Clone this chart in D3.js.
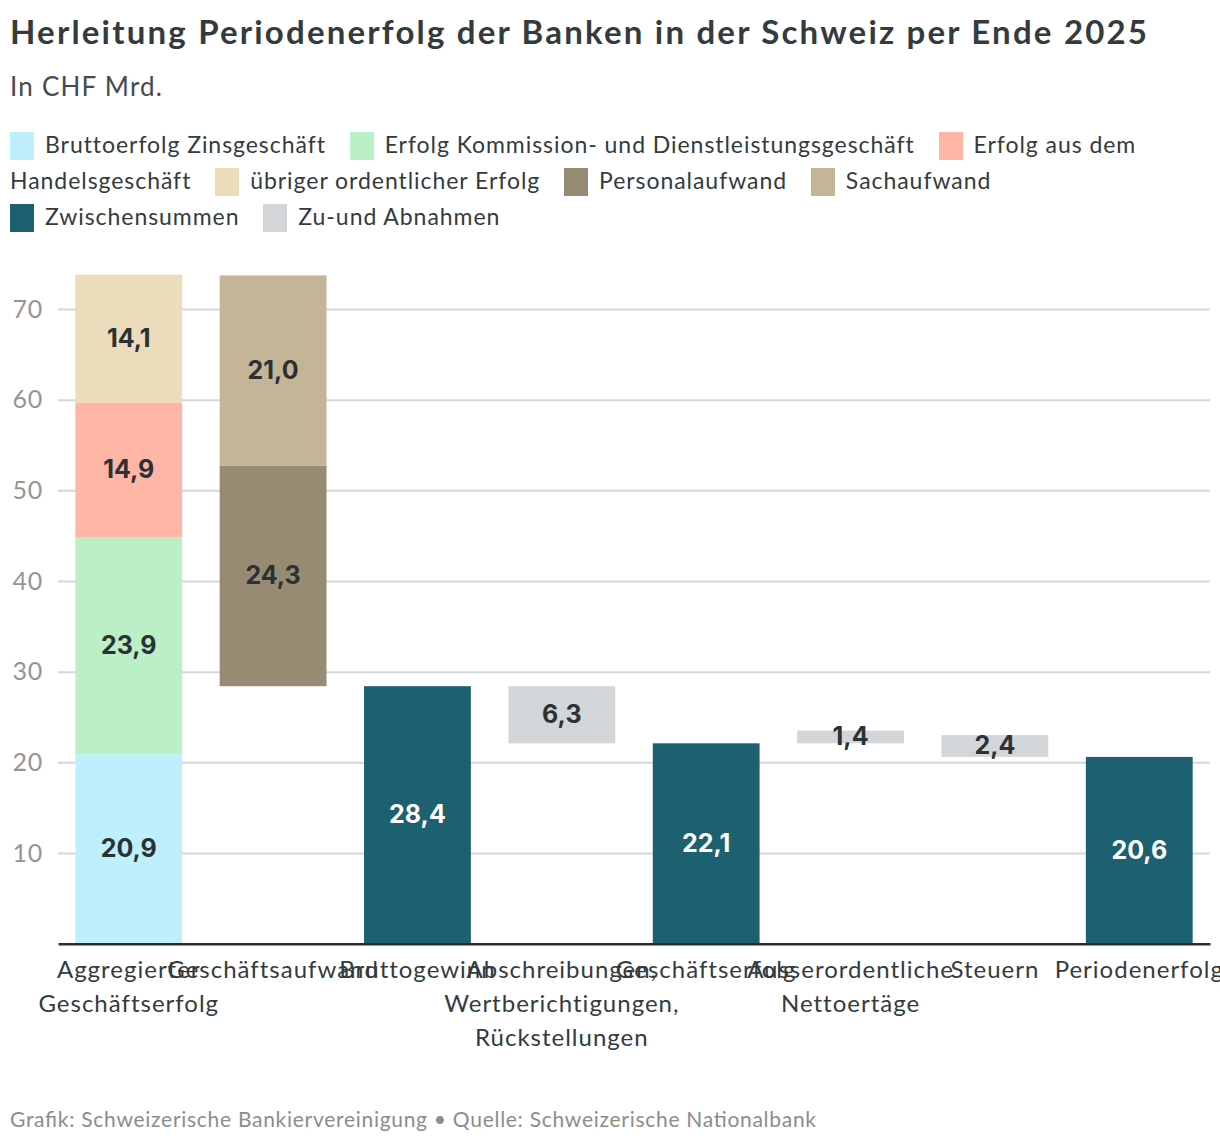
<!DOCTYPE html>
<html><head><meta charset="utf-8">
<script src="https://cdn.jsdelivr.net/npm/d3@7"></script>
<style>
body{margin:0;background:#fff;font-family:Lato,sans-serif;}
#wrap{position:relative;width:1220px;height:1148px;}
svg{position:absolute;left:0;top:0;}
#legend{position:absolute;left:10px;top:126px;width:1200px;font-size:23px;letter-spacing:0.95px;line-height:36px;color:#333b3f;font-family:Lato,sans-serif;}
.sw{display:inline-block;width:24px;height:28px;vertical-align:-7px;margin-right:11px;}
.item{margin-right:17px;}
.nw{white-space:nowrap;}
</style></head>
<body><div id="wrap"><svg id="chart" width="1220" height="1148"></svg><div id="legend"></div></div>
<script>
const title = "Herleitung Periodenerfolg der Banken in der Schweiz per Ende 2025";
const subtitle = "In CHF Mrd.";
const footer = "Grafik: Schweizerische Bankiervereinigung \u2022 Quelle: Schweizerische Nationalbank";

const categories = ["Aggregierter Geschäftserfolg","Geschäftsaufwand","Bruttogewinn","Abschreibungen, Wertberichtigungen, Rückstellungen","Geschäftserfolg","Ausserordentliche Nettoertäge","Steuern","Periodenerfolg"];
const seriesNames = ["Bruttoerfolg Zinsgeschäft","Erfolg Kommission- und Dienstleistungsgeschäft","Erfolg aus dem Handelsgeschäft","übriger ordentlicher Erfolg","Personalaufwand","Sachaufwand","Zwischensummen","Zu-und Abnahmen"];
const seriesColors = ["#bdeffc","#bbefc5","#ffb6a4","#ecdcbb","#978b73","#c3b596","#1d6070","#d3d6d9"];

// Aggregierter Geschäftserfolg components (series 0-3)
const incomeValues = [20.9, 23.9, 14.9, 14.1];
// Geschäftsaufwand components (series 4-5), stacked on Bruttogewinn
const expenseValues = [24.3, 21.0];
// Zwischensummen
const subtotalCats = ["Bruttogewinn","Geschäftserfolg","Periodenerfolg"];
const subtotalValues = [28.4, 22.1, 20.6];
// Zu- und Abnahmen: low end and size
const changeCats = ["Abschreibungen, Wertberichtigungen, Rückstellungen","Ausserordentliche Nettoertäge","Steuern"];
const changeLow = [22.1, 22.1, 20.6];
const changeValues = [6.3, 1.4, 2.4];

const yTicks = [10,20,30,40,50,60,70];

// build segments
const segs = [];
let acc = 0;
incomeValues.forEach((v,i)=>{segs.push({cat:categories[0],y0:acc,y1:acc+v,v,s:i});acc+=v;});
acc = subtotalValues[0];
expenseValues.forEach((v,i)=>{segs.push({cat:categories[1],y0:acc,y1:acc+v,v,s:4+i});acc+=v;});
subtotalValues.forEach((v,i)=>segs.push({cat:subtotalCats[i],y0:0,y1:v,v,s:6}));
changeValues.forEach((v,i)=>segs.push({cat:changeCats[i],y0:changeLow[i],y1:changeLow[i]+v,v,s:7}));

const svg = d3.select("#chart");
const textCol = "#333b3f";
svg.append("text").attr("x",10).attr("y",44).text(title)
  .attr("font-family","Lato").attr("font-weight",700).attr("font-size",33).attr("fill",textCol)
  .attr("textLength",1137).attr("lengthAdjust","spacing");
svg.append("text").attr("x",10).attr("y",96).text(subtitle)
  .attr("font-family","Lato").attr("font-size",26).attr("fill","#444b4f")
  .attr("textLength",152).attr("lengthAdjust","spacing");
svg.append("text").attr("x",10).attr("y",1127).text(footer)
  .attr("font-family","Lato").attr("font-size",21).attr("fill","#8c8c8c")
  .attr("textLength",806).attr("lengthAdjust","spacing");

const x = d3.scaleBand().domain(categories).range([58,1210]).paddingInner(0.26).paddingOuter(0.12);
const y = d3.scaleLinear().domain([0,70]).range([943.7,309]);

const gy = svg.append("g").attr("transform","translate(58,0)")
  .call(d3.axisLeft(y).tickValues(yTicks).tickSize(-1152).tickPadding(15));
gy.select(".domain").remove();
gy.selectAll(".tick line").attr("stroke","#d4d8dc").attr("stroke-width",2);
gy.selectAll(".tick text").attr("font-family","Lato").attr("font-size",25).attr("letter-spacing",0.8).attr("fill","#959595");

svg.append("g").selectAll("rect").data(segs).join("rect")
  .attr("x",d=>x(d.cat)).attr("width",x.bandwidth())
  .attr("y",d=>y(d.y1)).attr("height",d=>y(d.y0)-y(d.y1))
  .attr("fill",d=>seriesColors[d.s]);

const fmt = v => v.toFixed(1).replace(".",",");
svg.append("g").selectAll("text").data(segs).join("text")
  .attr("x",d=>x(d.cat)+x.bandwidth()/2).attr("y",d=>y((d.y0+d.y1)/2)).attr("dy","0.33em")
  .attr("text-anchor","middle").attr("font-family","Inter").attr("font-weight",700).attr("font-size",25)
  .attr("fill",d=>d.s===6?"#fff":"#2b3134").text(d=>fmt(d.v));

const gx = svg.append("g").attr("transform",`translate(0,${y(0)})`)
  .call(d3.axisBottom(x).tickSize(0).tickPadding(0));
gx.select(".domain").attr("stroke","#2b2f31").attr("stroke-width",2.5);
gx.selectAll(".tick text").each(function(d){
  const t = d3.select(this).text(null).attr("y",0).attr("dy",null)
    .attr("font-family","Lato").attr("font-size",24).attr("letter-spacing",1).attr("fill",textCol);
  d.split(" ").forEach((w,i)=>t.append("tspan").attr("x",0).attr("y",34+i*34).text(w));
});

// legend (HTML flow)
const lg = d3.select("#legend");
seriesNames.forEach((n,i)=>{
  const it = lg.append("span").attr("class","item");
  const words = n.split(" ");
  const first = it.append("span").attr("class","nw");
  first.append("span").attr("class","sw").style("background",seriesColors[i]);
  first.append("span").text(words[0]);
  if(words.length>1) it.append("span").text(" "+words.slice(1).join(" "));
  lg.append("span").text(" ");
});
</script></body></html>
